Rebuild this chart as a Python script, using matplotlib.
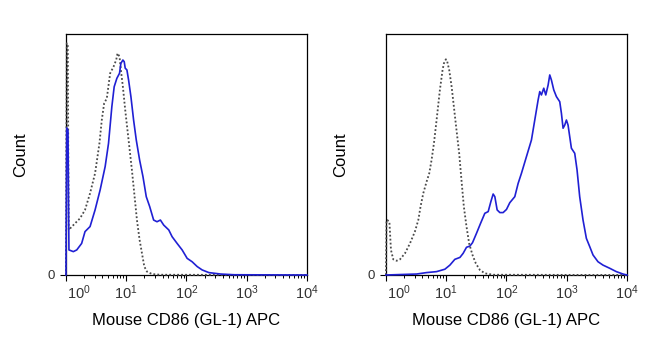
import matplotlib
matplotlib.use("Agg")
import matplotlib.pyplot as plt
import matplotlib.transforms as mtransforms
from matplotlib.ticker import LogLocator, FixedLocator, NullFormatter

plt.rcParams['font.family'] = ['Liberation Sans', 'DejaVu Sans']
plt.rcParams['mathtext.fontset'] = 'custom'
plt.rcParams['mathtext.rm'] = 'Liberation Sans'
plt.rcParams['mathtext.it'] = 'Liberation Sans'

# --- valores (intensidade APC, contagem normalizada 0-100) ---
# painel esquerdo
esq_azul_x = [1.0, 1.03, 1.08, 1.12, 1.325, 1.51, 1.82, 2.07, 2.51, 3.04, 3.69, 4.47,
              5.08, 5.77, 6.31, 6.99, 7.74, 8.15, 8.80, 9.26, 9.62, 10.26, 10.94, 11.96,
              13.25, 14.68, 16.68, 18.96, 21.5, 24.5, 28.5, 32.4, 36.9, 41.9, 50.8, 57.7,
              69.9, 84.7, 102.6, 124, 150.6, 182, 235, 369, 615, 10000]
esq_azul_y = [0, 61.0, 60.0, 10.4, 9.7, 10.4, 13.1, 18.0, 20.1, 27.0, 35.3, 45.0,
              54.6, 69.8, 78.1, 81.6, 83.7, 87.8, 89.2, 88.5, 85.8, 85.1, 80.9, 74.0,
              64.3, 56.0, 47.7, 40.8, 32.5, 28.4, 22.8, 22.1, 22.8, 20.7, 18.7, 15.9,
              13.1, 10.4, 6.9, 5.5, 3.5, 2.1, 1.0, 0.4, 0.1, 0]

esq_cinza_x = [1.0, 1.03, 1.07, 1.11, 1.41, 1.71, 2.07, 2.51, 3.04, 3.59, 3.93, 4.30,
               4.76, 5.41, 6.15, 6.81, 7.17, 7.74, 8.15, 8.80, 9.62, 10.94, 12.42, 13.77,
               15.06, 16.68, 18.24, 19.95, 22.1, 26.8, 36.9, 10000]
esq_cinza_y = [0, 96.1, 96.1, 18.7, 21.4, 23.5, 27.0, 33.9, 42.2, 54.6, 64.3, 71.2,
               73.3, 83.7, 86.4, 89.2, 92.0, 90.6, 85.1, 78.1, 68.5, 56.0, 43.6, 32.5,
               22.8, 14.5, 9.0, 3.5, 1.4, 0.4, 0.1, 0]

# painel direito
dir_azul_x = [1.0, 3.22, 4.72, 6.92, 9.5, 11.5, 13.9, 16.9, 19.1, 21.7, 24.7, 27.3,
              31.8, 37.1, 43.7, 49.7, 55.0, 60.1, 64.1, 70.0, 77.6, 88.0, 100, 113.5,
              137.4, 156.1, 177.2, 214.4, 259.5, 294.8, 334.9, 356.7, 380.1, 415.6,
              448.7, 490.8, 522.7, 556.9, 609.0, 674.3, 765.7, 816.0, 869.6, 926.7,
              987.5, 1052, 1121, 1195, 1357, 1483, 1641, 1864, 2118, 2405, 2731, 3302,
              4000, 5160, 6650, 8590, 10000]
dir_azul_y = [0, 0.4, 1.0, 1.4, 2.4, 4.1, 6.5, 7.3, 9.0, 11.5, 12.0, 13.4,
              17.3, 21.4, 25.6, 26.3, 30.4, 33.6, 32.5, 27.0, 25.9, 25.9, 27.2, 30.0,
              32.5, 38.0, 42.2, 49.1, 56.0, 64.3, 72.6, 76.1, 74.7, 77.5,
              74.7, 78.8, 83.0, 80.9, 76.8, 74.0, 71.9, 67.1, 60.9, 62.2,
              64.3, 62.2, 57.4, 52.6, 50.5, 43.6, 32.5, 22.8, 15.2, 11.8, 8.3, 5.5,
              4.1, 2.8, 1.4, 0.4, 0]

dir_cinza_x = [1.0, 1.02, 1.05, 1.14, 1.21, 1.32, 1.50, 1.71, 2.07, 2.50, 3.02, 3.44,
               3.75, 4.16, 4.72, 5.23, 5.71, 6.25, 6.92, 7.85, 8.70, 9.15, 9.87, 10.4,
               11.2, 12.3, 13.4, 14.8, 16.4, 17.9, 19.6, 21.7, 24.0, 27.3, 31.0, 36.2,
               43.7, 60.1, 10000]
dir_cinza_y = [0, 22.8, 22.8, 22.1, 10.4, 6.5, 5.9, 6.5, 9.0, 13.1, 18.0, 22.8,
               28.4, 33.9, 38.7, 42.2, 47.7, 54.6, 64.3, 76.8, 85.1, 87.8, 89.5, 88.5,
               85.1, 78.1, 69.8, 60.2, 50.5, 39.4, 28.4, 20.1, 13.1, 8.3, 4.8, 2.1,
               0.7, 0.1, 0]

paineis = [
    ([0.1015, 0.2029, 0.3708, 0.6986], esq_azul_x, esq_azul_y, esq_cinza_x, esq_cinza_y),
    ([0.5938, 0.2029, 0.3708, 0.6986], dir_azul_x, dir_azul_y, dir_cinza_x, dir_cinza_y),
]

fig = plt.figure(figsize=(6.5, 3.45), dpi=100)

for pos, ax_x, ax_y, cz_x, cz_y in paineis:
    ax = fig.add_axes(pos)
    ax.plot(cz_x, cz_y, color='#4a4a4a', lw=1.3, linestyle=(0, (1, 1.2)), zorder=3, clip_on=False)
    ax.plot(ax_x, ax_y, color='#2020d4', lw=1.2, zorder=4, clip_on=False)

    ax.set_xscale('log')
    ax.set_xlim(1, 1e4)
    ax.set_ylim(0, 100)

    ax.xaxis.set_major_locator(FixedLocator([1, 10, 100, 1000, 10000]))
    ax.set_xticklabels([r'$10^{0}$', r'$10^{1}$', r'$10^{2}$', r'$10^{3}$', r'$10^{4}$'])
    ax.xaxis.set_minor_locator(LogLocator(base=10, subs=range(2, 10), numticks=20))
    ax.xaxis.set_minor_formatter(NullFormatter())
    ax.set_yticks([0])
    ax.set_yticklabels(['0'])

    ax.tick_params(axis='x', which='major', length=4, width=0.8, labelsize=10.5,
                   pad=2, labelcolor='#333333')
    ax.tick_params(axis='x', which='minor', length=2.5, width=0.7)
    ax.tick_params(axis='y', length=4, width=0.8, labelsize=9.5, pad=4, labelcolor='#333333')

    # o rótulo 10^0 fica deslocado para dentro
    lbl0 = ax.get_xticklabels()[0]
    lbl0.set_transform(lbl0.get_transform() + mtransforms.ScaledTranslation(13 / 100, 0, fig.dpi_scale_trans))

    for s in ax.spines.values():
        s.set_linewidth(0.9)
        s.set_color('black')

    ax.set_xlabel('Mouse CD86 (GL-1) APC', fontsize=12, labelpad=8)
    ax.set_ylabel('Count', fontsize=12, labelpad=14)

fig.savefig('out.png', dpi=100)
